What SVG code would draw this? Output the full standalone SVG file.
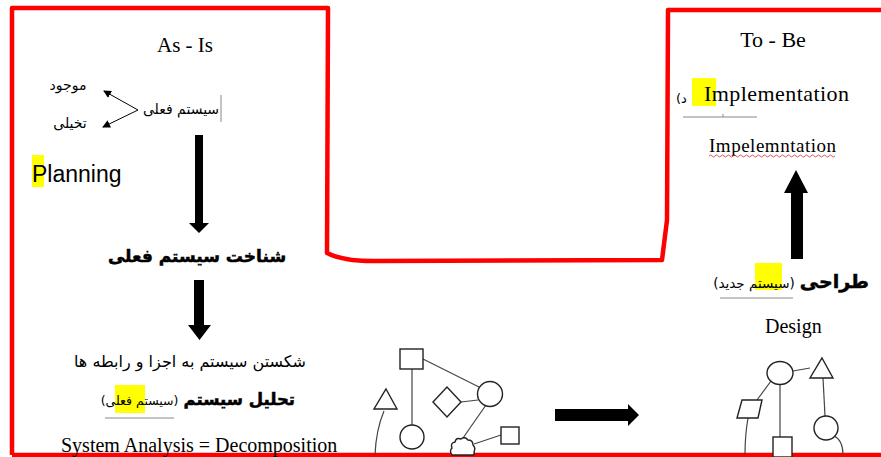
<svg xmlns="http://www.w3.org/2000/svg" width="881" height="457" viewBox="0 0 881 457">
<style>
.serif{font-family:"Liberation Serif","Times New Roman",serif;fill:#000}
.fa{font-family:"DejaVu Sans","Noto Sans",sans-serif;fill:#000;direction:rtl}
.b{font-weight:bold;stroke:#000;stroke-width:0.5}
.sans{font-family:"Liberation Sans",Arial,sans-serif;fill:#000}
.hl{fill:#ffff00}
.sh{fill:#fff;stroke:#222;stroke-width:1.4}
.ln{fill:none;stroke:#444;stroke-width:1.2}
.ul{stroke:#888;stroke-width:1;fill:none}
.big{fill:#000}
</style>
<defs>
<marker id="ah" markerWidth="8" markerHeight="8" refX="7" refY="4" orient="auto" markerUnits="userSpaceOnUse">
<path d="M0,0 L8,4 L0,8 z" fill="#000"/>
</marker>
</defs>
<rect width="881" height="457" fill="#fff"/>

<g id="frame">
<path d="M12,455 L12,8 L328,8 L327,253 Q345,262 380,261 L662,260 L667,220 L668,10 L881,10" fill="none" stroke="#ff0000" stroke-width="4.5" stroke-linejoin="round"/>
<line x1="12" y1="455" x2="881" y2="455" stroke="#ff0000" stroke-width="4.5"/>
</g>

<g id="as-is-title"><text class="serif" x="185" y="52" font-size="21" text-anchor="middle">As - Is</text></g>
<g id="to-be-title"><text class="serif" x="773" y="47" font-size="22" text-anchor="middle">To - Be</text></g>

<g id="current-system">
<text class="fa" x="181" y="114" font-size="14" text-anchor="middle">سیستم فعلی</text>
<line x1="221" y1="95" x2="221" y2="122" stroke="#888" stroke-width="1"/>
</g>
<g id="existing"><text class="fa" x="68" y="90" font-size="14" text-anchor="middle">موجود</text></g>
<g id="imaginary"><text class="fa" x="70" y="128" font-size="14" text-anchor="middle">تخیلی</text></g>

<g id="planning">
<rect class="hl" x="32" y="155" width="12" height="32"/>
<text class="sans" x="32" y="182" font-size="23">Planning</text>
</g>

<g id="recognition"><text class="fa b" x="197" y="262" font-size="17" text-anchor="middle">شناخت سیستم فعلی</text></g>

<g id="decompose-text"><text class="fa" x="190" y="367" font-size="16" text-anchor="middle">شکستن سیستم به اجزا و رابطه ها</text></g>

<g id="analysis">
<rect class="hl" x="115" y="385" width="30" height="28"/>
<text class="fa" x="295" y="405" text-anchor="start"><tspan class="b" font-size="16.5">تحلیل سیستم</tspan> <tspan font-size="12.5">(سیستم فعلی)</tspan></text>
<line class="ul" x1="105" y1="418" x2="174" y2="418"/>
</g>

<g id="system-analysis"><text class="serif" x="61" y="452" font-size="20">System Analysis = Decomposition</text></g>

<g id="implementation">
<rect class="hl" x="692" y="78" width="24" height="28"/>
<text x="676" y="103" font-size="13" style="font-family:'DejaVu Sans',sans-serif;direction:ltr">(د</text>
<text class="serif" x="704" y="101" font-size="22" textLength="145">Implementation</text>
<line class="ul" x1="683" y1="117" x2="757" y2="117"/>
<line class="ul" x1="723" y1="114" x2="723" y2="117"/>
</g>

<g id="impelemntation">
<text class="serif" x="709" y="152" font-size="19" textLength="127">Impelemntation</text>
<path d="M709,156 q1.5,-2 3,0 t3,0 t3,0 t3,0 t3,0 t3,0 t3,0 t3,0 t3,0 t3,0 t3,0 t3,0 t3,0 t3,0 t3,0 t3,0 t3,0 t3,0 t3,0 t3,0 t3,0 t3,0 t3,0 t3,0 t3,0 t3,0 t3,0 t3,0 t3,0 t3,0 t3,0 t3,0 t3,0 t3,0 t3,0 t3,0 t3,0 t3,0 t3,0 t3,0 t3,0 t3,0" fill="none" stroke="#d03030" stroke-width="0.8"/>
</g>

<g id="design-fa">
<rect class="hl" x="755" y="263" width="27" height="27"/>
<text class="fa" x="869" y="288" text-anchor="start"><tspan class="b" font-size="19">طراحی</tspan> <tspan font-size="13.5">(سیستم جدید)</tspan></text>
<line class="ul" x1="720" y1="298" x2="793" y2="298"/>
</g>

<g id="design"><text class="serif" x="765" y="333" font-size="20">Design</text></g>

<g id="connectors">
<line x1="138" y1="110" x2="104" y2="91" stroke="#000" stroke-width="1" marker-end="url(#ah)"/>
<line x1="138" y1="110" x2="103" y2="127" stroke="#000" stroke-width="1" marker-end="url(#ah)"/>
<polygon class="big" points="195,135 203,135 203,223 209,223 199,233 189,223 195,223"/>
<polygon class="big" points="194,280 204,280 204,325 211,325 199.5,340 188,325 194,325"/>
<polygon class="big" points="555,409 628,409 628,404 639,415 628,426 628,421 555,421"/>
<polygon class="big" points="791,259 791,193 784,193 796,170 808,193 803,193 803,259"/>
</g>

<g id="as-is-graph">
<line class="ln" x1="412" y1="369" x2="412" y2="425"/>
<line class="ln" x1="423" y1="359" x2="479" y2="387"/>
<line class="ln" x1="461" y1="402" x2="478" y2="400"/>
<line class="ln" x1="486" y1="405" x2="463" y2="438"/>
<line class="ln" x1="474" y1="444" x2="501" y2="435"/>
<path class="ln" d="M384,411 Q376,430 375,455"/>
<rect class="sh" x="400" y="349" width="23" height="20"/>
<circle class="sh" cx="412" cy="437" r="12"/>
<circle class="sh" cx="490" cy="394" r="12.5"/>
<polygon class="sh" points="433,402 447,387 461,402 447,417"/>
<rect class="sh" x="501" y="427" width="18" height="17"/>
<polygon class="sh" points="386,389 397,409 374,409"/>
<path class="sh" d="M452,455 q-3,-4 0,-7 q-2,-5 3,-6 q1,-5 6,-3 q4,-3 7,1 q5,0 5,5 q3,3 1,7 q1,2 -1,3 z"/>
</g>

<g id="to-be-graph">
<line class="ln" x1="793" y1="371" x2="810" y2="368"/>
<line class="ln" x1="823" y1="378" x2="825" y2="416"/>
<line class="ln" x1="771" y1="381" x2="757" y2="400"/>
<line class="ln" x1="780" y1="384" x2="780" y2="437"/>
<path class="ln" d="M748,418 Q745,435 745,455"/>
<path class="ln" d="M834,436 Q843,440 843,455"/>
<ellipse class="sh" cx="780" cy="373" rx="13" ry="11.5"/>
<polygon class="sh" points="822,358 833,378 810,378"/>
<circle class="sh" cx="826" cy="428" r="12"/>
<polygon class="sh" points="742,400 762,400 758,418 737,418"/>
<rect class="sh" x="773" y="437" width="19" height="20"/>
</g>
</svg>
